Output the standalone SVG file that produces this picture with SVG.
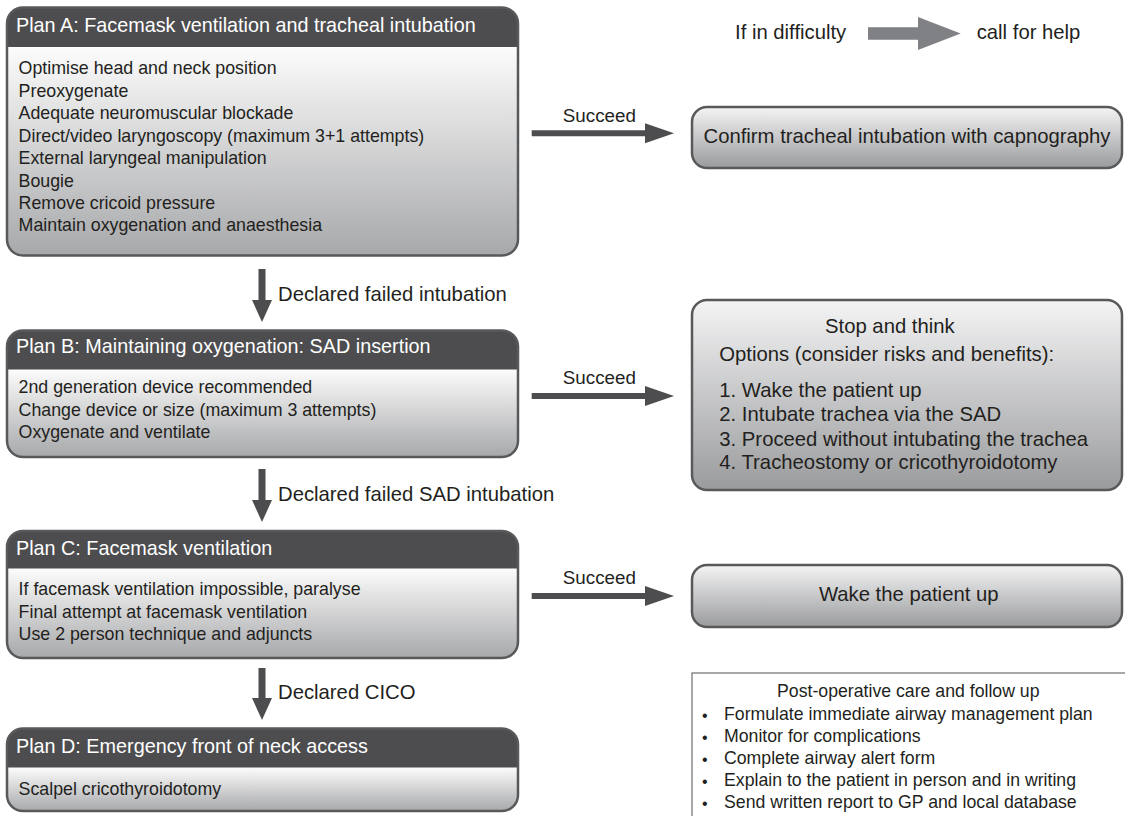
<svg xmlns="http://www.w3.org/2000/svg" width="1125" height="816" viewBox="0 0 1125 816">
  <defs>
    <linearGradient id="bodyFill" x1="0" y1="0" x2="0" y2="1">
      <stop offset="0" stop-color="#fcfcfc"/>
      <stop offset="1" stop-color="#a7a8aa"/>
    </linearGradient>
    <linearGradient id="sideFill" x1="0" y1="0" x2="0" y2="1">
      <stop offset="0" stop-color="#f4f4f5"/>
      <stop offset="1" stop-color="#9a9b9d"/>
    </linearGradient>
    <style>
      text { font-family: "Liberation Sans", Arial, sans-serif; fill: #231f20; }
      .head { fill: #4d4d4f; }
      .body { fill: url(#bodyFill); }
      .outline { fill: none; stroke: #58595b; stroke-width: 2.5; }
      .side { fill: url(#sideFill); stroke: #58595b; stroke-width: 2.5; }
      .htxt { font-size: 19.8px; fill: #ffffff; }
      .btxt { font-size: 17.8px; }
      .lbl { font-size: 20.3px; }
      .succ { font-size: 18.8px; }
      .rtxt { font-size: 20.3px; }
      .ptxt { font-size: 17.7px; }
      .bul { font-size: 16px; }
      .arrow { fill: #4d4d4f; }
      .help { fill: #808184; }
    </style>
  </defs>

  <!-- Plan A -->
  <g id="plan-a">
    <path class="body" d="M7 47 H518 V239.5 A16 16 0 0 1 502 255.5 H23 A16 16 0 0 1 7 239.5 Z"/>
    <path class="head" d="M7 47 V23.5 A16 16 0 0 1 23 7.5 H502 A16 16 0 0 1 518 23.5 V47 Z"/>
    <rect class="outline" x="7" y="7.5" width="511" height="248" rx="16"/>
    <text class="htxt" x="16" y="31.7">Plan A: Facemask ventilation and tracheal intubation</text>
    <text class="btxt" x="18.6" y="74">Optimise head and neck position</text>
    <text class="btxt" x="18.6" y="96.6">Preoxygenate</text>
    <text class="btxt" x="18.6" y="119.1">Adequate neuromuscular blockade</text>
    <text class="btxt" x="18.6" y="141.6">Direct/video laryngoscopy (maximum 3+1 attempts)</text>
    <text class="btxt" x="18.6" y="164.1">External laryngeal manipulation</text>
    <text class="btxt" x="18.6" y="186.6">Bougie</text>
    <text class="btxt" x="18.6" y="209.1">Remove cricoid pressure</text>
    <text class="btxt" x="18.6" y="231.4">Maintain oxygenation and anaesthesia</text>
  </g>

  <!-- Plan B -->
  <g id="plan-b">
    <path class="body" d="M7 369.5 H518 V441 A16 16 0 0 1 502 457 H23 A16 16 0 0 1 7 441 Z"/>
    <path class="head" d="M7 369.5 V346.5 A16 16 0 0 1 23 330.5 H502 A16 16 0 0 1 518 346.5 V369.5 Z"/>
    <rect class="outline" x="7" y="330.5" width="511" height="126.5" rx="16"/>
    <text class="htxt" x="16" y="353.3">Plan B: Maintaining oxygenation: SAD insertion</text>
    <text class="btxt" x="18.6" y="393.3">2nd generation device recommended</text>
    <text class="btxt" x="18.6" y="415.8">Change device or size (maximum 3 attempts)</text>
    <text class="btxt" x="18.6" y="438.3">Oxygenate and ventilate</text>
  </g>

  <!-- Plan C -->
  <g id="plan-c">
    <path class="body" d="M7 568.5 H518 V642 A16 16 0 0 1 502 658 H23 A16 16 0 0 1 7 642 Z"/>
    <path class="head" d="M7 568.5 V547 A16 16 0 0 1 23 531 H502 A16 16 0 0 1 518 547 V568.5 Z"/>
    <rect class="outline" x="7" y="531" width="511" height="127" rx="16"/>
    <text class="htxt" x="16" y="555">Plan C: Facemask ventilation</text>
    <text class="btxt" x="18.6" y="595">If facemask ventilation impossible, paralyse</text>
    <text class="btxt" x="18.6" y="617.5">Final attempt at facemask ventilation</text>
    <text class="btxt" x="18.6" y="640">Use 2 person technique and adjuncts</text>
  </g>

  <!-- Plan D -->
  <g id="plan-d">
    <path class="body" d="M7 767.5 H518 V795 A16 16 0 0 1 502 811 H23 A16 16 0 0 1 7 795 Z"/>
    <path class="head" d="M7 767.5 V744.5 A16 16 0 0 1 23 728.5 H502 A16 16 0 0 1 518 744.5 V767.5 Z"/>
    <rect class="outline" x="7" y="728.5" width="511" height="82.5" rx="16"/>
    <text class="htxt" x="16" y="753.3">Plan D: Emergency front of neck access</text>
    <text class="btxt" x="18.6" y="795">Scalpel cricothyroidotomy</text>
  </g>

  <!-- Call for help banner -->
  <g id="help">
    <text class="rtxt" x="735" y="39.3">If in difficulty</text>
    <polygon class="help" points="868,27.2 918,27.2 918,17 960.7,33.5 918,50 918,39.8 868,39.8"/>
    <text class="rtxt" x="976.7" y="39.3">call for help</text>
  </g>

  <!-- Outcome boxes -->
  <g id="confirm">
    <rect class="side" x="692" y="107" width="430" height="61" rx="15"/>
    <text class="rtxt" x="907" y="142.7" text-anchor="middle">Confirm tracheal intubation with capnography</text>
  </g>

  <g id="stop-and-think">
    <rect class="side" x="692" y="300" width="430" height="190" rx="15"/>
    <text class="rtxt" x="825" y="333.3">Stop and think</text>
    <text class="rtxt" x="719.3" y="360.7">Options (consider risks and benefits):</text>
    <text class="rtxt" x="719.3" y="396.7">1. Wake the patient up</text>
    <text class="rtxt" x="719.3" y="420.7">2. Intubate trachea via the SAD</text>
    <text class="rtxt" x="719.3" y="445.5">3. Proceed without intubating the trachea</text>
    <text class="rtxt" x="719.3" y="469.3">4. Tracheostomy or cricothyroidotomy</text>
  </g>

  <g id="wake-up">
    <rect class="side" x="692" y="565" width="430" height="62" rx="15"/>
    <text class="rtxt" x="908.7" y="600.7" text-anchor="middle">Wake the patient up</text>
  </g>

  <g id="post-op">
    <rect x="692" y="673" width="450" height="200" fill="#ffffff" stroke="#6d6e70" stroke-width="1.2"/>
    <text class="ptxt" x="908.3" y="696.7" text-anchor="middle">Post-operative care and follow up</text>
    <text class="bul" x="702" y="720.5">•</text>
    <text class="ptxt" x="724" y="720">Formulate immediate airway management plan</text>
    <text class="bul" x="702" y="742.5">•</text>
    <text class="ptxt" x="724" y="742">Monitor for complications</text>
    <text class="bul" x="702" y="764.5">•</text>
    <text class="ptxt" x="724" y="764">Complete airway alert form</text>
    <text class="bul" x="702" y="786.5">•</text>
    <text class="ptxt" x="724" y="786">Explain to the patient in person and in writing</text>
    <text class="bul" x="702" y="808.8">•</text>
    <text class="ptxt" x="724" y="808.3">Send written report to GP and local database</text>
  </g>

  <!-- Connectors -->
  <g id="connectors">
    <polygon class="arrow" points="258.5,269 265.5,269 265.5,300 272,300 262,322 252,300 258.5,300"/>
    <text class="lbl" x="278" y="300.5">Declared failed intubation</text>
    <polygon class="arrow" points="258.5,469 265.5,469 265.5,500 272,500 262,522 252,500 258.5,500"/>
    <text class="lbl" x="278" y="500.5">Declared failed SAD intubation</text>
    <polygon class="arrow" points="258.5,668 265.5,668 265.5,698 272,698 262,720 252,698 258.5,698"/>
    <text class="lbl" x="278" y="698.5">Declared CICO</text>

    <polygon class="arrow" points="531.7,130.3 645,130.3 645,123.3 674,133.3 645,143.3 645,136.3 531.7,136.3"/>
    <text class="succ" x="599.4" y="122" text-anchor="middle">Succeed</text>
    <polygon class="arrow" points="531.7,393 645,393 645,386 674,396 645,406 645,399 531.7,399"/>
    <text class="succ" x="599.4" y="383.5" text-anchor="middle">Succeed</text>
    <polygon class="arrow" points="531.7,593 645,593 645,586 674,596 645,606 645,599 531.7,599"/>
    <text class="succ" x="599.4" y="583.5" text-anchor="middle">Succeed</text>
  </g>
</svg>
